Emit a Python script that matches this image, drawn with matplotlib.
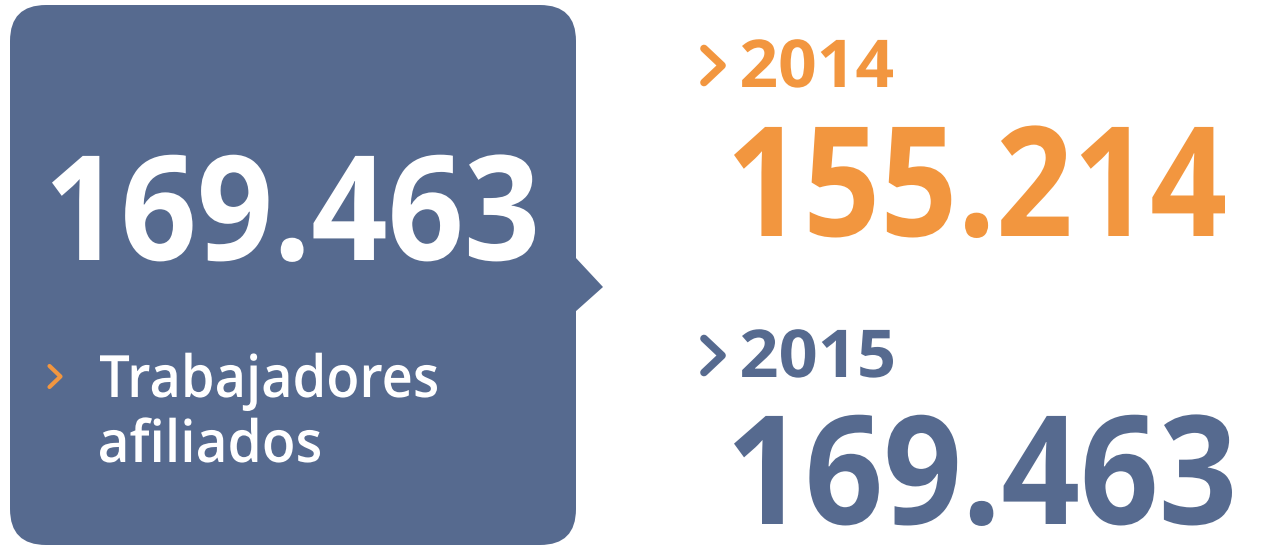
import matplotlib
matplotlib.use("Agg")
import matplotlib.pyplot as plt
from matplotlib.patches import FancyBboxPatch, Polygon
from matplotlib.patheffects import AbstractPathEffect
from matplotlib.transforms import Affine2D
from matplotlib.font_manager import FontProperties

# Data
years = ["2014", "2015"]
values = [155214, 169463]
total_value = 169463
label_lines = ["Trabajadores", "afiliados"]

BLUE = "#566A8F"
ORANGE = "#F2963F"
FONT = "Open Sans"
DPI = 100


def fmt(v):
    return f"{v:,}".replace(",", ".")


W, H = 1261, 553
fig = plt.figure(figsize=(W / DPI, H / DPI), dpi=DPI)
ax = fig.add_axes([0, 0, 1, 1])
ax.set_xlim(0, W)
ax.set_ylim(H, 0)
ax.axis("off")


class FitWidth(AbstractPathEffect):
    """Horizontally rescale a text's glyphs so the ink spans [x0, x1] (data coords),
    and move its baseline from y_anchor to y_target. The text stays a real Text artist."""

    def __init__(self, axes, x0, x1, y_anchor, y_target):
        super().__init__()
        self._ax, self._x0, self._x1 = axes, x0, x1
        self._ya, self._yt = y_anchor, y_target

    def draw_path(self, renderer, gc, tpath, affine, rgbFace=None):
        td = self._ax.transData
        ext = tpath.get_extents(affine)
        l = td.transform((self._x0, 0))[0]
        r = td.transform((self._x1, 0))[0]
        dy = td.transform((0, self._yt))[1] - td.transform((0, self._ya))[1]
        sx = (r - l) / (ext.x1 - ext.x0)
        t = Affine2D().translate(-ext.x0, 0).scale(sx, 1).translate(l, dy)
        renderer.draw_path(gc, tpath, affine + t, rgbFace)


def fit_text(s, x_left, x_right, y_base, size_pt, color, weight,
             anchor_x=None, anchor_y=None, ha="left"):
    fp = FontProperties(family=FONT, weight=weight, size=size_pt)
    ax_ = x_left if anchor_x is None else anchor_x
    ay_ = y_base if anchor_y is None else anchor_y
    ax.text(ax_, ay_, s, color=color, fontproperties=fp, ha=ha, va="baseline",
            path_effects=[FitWidth(ax, x_left, x_right, ay_, y_base)])


# Box with pointer
box = FancyBboxPatch((10, 5), 566, 540, boxstyle="round,pad=0,rounding_size=36",
                     fc=BLUE, ec="none")
ax.add_patch(box)
ax.add_patch(Polygon([(575, 257), (603, 287), (575, 312)], closed=True, fc=BLUE, ec="none"))

# Big number in box
fit_text(fmt(total_value), 52, 535, 260, 105, "white", "bold", anchor_x=293, ha="center")


def chevron(x, y, w, h, color, lw):
    ax.plot([x, x + w, x], [y - h / 2, y, y + h / 2], color=color, lw=lw,
            solid_capstyle="round", solid_joinstyle="round")


# Label chevron and text
chevron(49.5, 376.5, 11, 21, ORANGE, 3.0)
fit_text(label_lines[0], 100, 437, 397, 42, "white", "semibold")
fit_text(label_lines[1], 100, 320, 462, 42, "white", "semibold")

# Right side year blocks
colors = [ORANGE, BLUE]
year_base = [87, 377]
val_base = [236, 524]
val_anchor_y = [236, 508]
val_right = [1225, 1232]
val_size = [110, 109]
for yr, v, c, yb, vb, vay, vr, vs in zip(years, values, colors, year_base, val_base,
                                         val_anchor_y, val_right, val_size):
    chevron(704, yb - 21.5, 18, 34, c, 5.5)
    fit_text(yr, 742, 893, yb, 47.5, c, "bold")
    fit_text(fmt(v), 734, vr, vb, vs, c, "bold", anchor_x=1255, anchor_y=vay, ha="right")

fig.savefig("out.png", dpi=DPI, facecolor="white")
